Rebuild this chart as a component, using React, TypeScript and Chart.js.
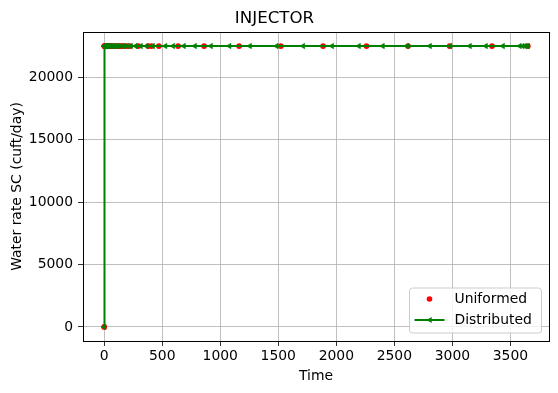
import React, { useEffect, useRef } from "react";
import { Chart, registerables } from "chart.js";

Chart.register(...registerables);

const chartTitle = "INJECTOR";
const xAxisTitle = "Time";
const yAxisTitle = "Water rate SC (cuft/day)";

const uniformedLabel = "Uniformed";
const uniformedTime = [
  0, 1, 3, 6, 10, 15, 21, 28, 36, 45, 55, 66, 78, 91, 105, 120, 136, 153, 171,
  190, 221, 293, 379, 408, 471, 637, 861, 1163, 1522, 1886, 2260, 2618, 2977,
  3342, 3650,
];
const uniformedRate = [
  0, 22500, 22500, 22500, 22500, 22500, 22500, 22500, 22500, 22500, 22500,
  22500, 22500, 22500, 22500, 22500, 22500, 22500, 22500, 22500, 22500, 22500,
  22500, 22500, 22500, 22500, 22500, 22500, 22500, 22500, 22500, 22500, 22500,
  22500, 22500,
];

const distributedLabel = "Distributed";
const distributedTime = [
  0, 1, 2, 5, 9, 14, 20, 28, 38, 50, 64, 80, 98, 118, 140, 165, 195, 230, 270,
  315, 365, 420, 527, 594, 686, 781, 919, 1079, 1255, 1485, 1714, 1963, 2194,
  2400, 2610, 2806, 2980, 3150, 3288, 3435, 3580, 3605, 3625, 3650,
];
const distributedRate = [
  0, 22500, 22500, 22500, 22500, 22500, 22500, 22500, 22500, 22500, 22500,
  22500, 22500, 22500, 22500, 22500, 22500, 22500, 22500, 22500, 22500, 22500,
  22500, 22500, 22500, 22500, 22500, 22500, 22500, 22500, 22500, 22500, 22500,
  22500, 22500, 22500, 22500, 22500, 22500, 22500, 22500, 22500, 22500, 22500,
];

const xTicks = [0, 500, 1000, 1500, 2000, 2500, 3000, 3500];
const yTicks = [0, 5000, 10000, 15000, 20000];
const xLimits = [-182.5, 3832.5];
const yLimits = [-1125, 23625];

const FONT = "'DejaVu Sans', sans-serif";
const RED = "#ff0000";
const GREEN = "#008000";

const framePlugin = {
  id: "frameAndLegend",
  afterDraw(chart: any) {
    const { ctx, chartArea } = chart;
    const { left, top, right, bottom } = chartArea;
    ctx.save();
    ctx.strokeStyle = "#000";
    ctx.lineWidth = 1;
    ctx.strokeRect(
      Math.round(left) + 0.5,
      Math.round(top) + 0.5,
      Math.round(right) - Math.round(left),
      Math.round(bottom) - Math.round(top)
    );

    // legend (lower right)
    const bw = 132;
    const bh = 45;
    const bx = right - 7.5 - bw;
    const by = bottom - 8 - bh;
    const r = 3;
    ctx.beginPath();
    ctx.moveTo(bx + r, by);
    ctx.lineTo(bx + bw - r, by);
    ctx.quadraticCurveTo(bx + bw, by, bx + bw, by + r);
    ctx.lineTo(bx + bw, by + bh - r);
    ctx.quadraticCurveTo(bx + bw, by + bh, bx + bw - r, by + bh);
    ctx.lineTo(bx + r, by + bh);
    ctx.quadraticCurveTo(bx, by + bh, bx, by + bh - r);
    ctx.lineTo(bx, by + r);
    ctx.quadraticCurveTo(bx, by, bx + r, by);
    ctx.closePath();
    ctx.fillStyle = "rgba(255,255,255,0.8)";
    ctx.fill();
    ctx.strokeStyle = "#cccccc";
    ctx.lineWidth = 1;
    ctx.stroke();

    const labels = chart.data.datasets.map((d: any) => d.label);
    const row1 = by + 11;
    const row2 = by + 32;
    const hx0 = bx + 5;
    const hx1 = bx + 35;
    const hc = (hx0 + hx1) / 2;

    // Uniformed marker
    ctx.beginPath();
    ctx.arc(hc, row1, 2.8, 0, Math.PI * 2);
    ctx.fillStyle = RED;
    ctx.fill();

    // Distributed line + marker
    ctx.beginPath();
    ctx.moveTo(hx0, row2);
    ctx.lineTo(hx1, row2);
    ctx.strokeStyle = GREEN;
    ctx.lineWidth = 2;
    ctx.stroke();
    ctx.beginPath();
    ctx.moveTo(hc - 3.2, row2);
    ctx.lineTo(hc + 2.2, row2 - 3);
    ctx.lineTo(hc + 2.2, row2 + 3);
    ctx.closePath();
    ctx.fillStyle = GREEN;
    ctx.fill();

    ctx.fillStyle = "#000";
    ctx.font = `13.9px ${FONT}`;
    ctx.textBaseline = "middle";
    ctx.textAlign = "left";
    const tx = bx + 45;
    const uIdx = labels.indexOf(uniformedLabel);
    const dIdx = labels.indexOf(distributedLabel);
    ctx.fillText(labels[uIdx], tx, row1);
    ctx.fillText(labels[dIdx], tx, row2);
    ctx.restore();
  },
};

export default function App() {
  const ref = useRef<HTMLCanvasElement | null>(null);

  useEffect(() => {
    if (!ref.current) return;
    const uniformedData = uniformedTime.map((t, i) => ({ x: t, y: uniformedRate[i] }));
    const distributedData = distributedTime.map((t, i) => ({ x: t, y: distributedRate[i] }));

    const chart = new Chart(ref.current, {
      type: "scatter",
      data: {
        datasets: [
          {
            label: uniformedLabel,
            data: uniformedData,
            showLine: false,
            pointStyle: "circle",
            pointRadius: 2.9,
            pointBackgroundColor: RED,
            pointBorderWidth: 0,
            backgroundColor: RED,
            borderColor: RED,
            order: 1,
          },
          {
            label: distributedLabel,
            data: distributedData,
            showLine: true,
            borderColor: GREEN,
            borderWidth: 2,
            pointStyle: "triangle",
            pointRotation: -90,
            pointRadius: 3.1,
            pointBackgroundColor: GREEN,
            pointBorderColor: GREEN,
            pointBorderWidth: 0.6,
            backgroundColor: GREEN,
            order: 0,
          },
        ] as any,
      },
      options: {
        responsive: false,
        animation: false,
        events: [],
        layout: { padding: { left: 0, right: 9, top: 0, bottom: 0 } },
        plugins: {
          legend: { display: false },
          tooltip: { enabled: false },
          title: {
            display: true,
            text: chartTitle,
            color: "#000",
            font: { family: FONT, size: 16.67, weight: "normal" },
            padding: { top: 9, bottom: 3 },
          },
        },
        scales: {
          x: {
            type: "linear",
            min: xLimits[0],
            max: xLimits[1],
            afterBuildTicks: (scale: any) => {
              scale.ticks = xTicks.map((v) => ({ value: v }));
            },
            afterFit: (scale: any) => {
              scale.height = 52;
            },
            ticks: {
              color: "#000",
              font: { family: FONT, size: 13.9 },
              padding: 2,
              autoSkip: false,
              maxRotation: 0,
              callback: (v: any) => String(v),
            },
            grid: {
              color: "#b0b0b0",
              lineWidth: 0.8,
              tickColor: "#000",
              tickLength: 5,
              tickWidth: 0.8,
            },
            border: { display: false },
            title: {
              display: true,
              text: xAxisTitle,
              color: "#000",
              font: { family: FONT, size: 13.9 },
              padding: { top: 0, bottom: 8 },
            },
          },
          y: {
            type: "linear",
            min: yLimits[0],
            max: yLimits[1],
            afterBuildTicks: (scale: any) => {
              scale.ticks = yTicks.map((v) => ({ value: v }));
            },
            afterFit: (scale: any) => {
              scale.width = 83;
            },
            ticks: {
              color: "#000",
              font: { family: FONT, size: 13.9 },
              padding: 5,
              autoSkip: false,
              callback: (v: any) => String(v),
            },
            grid: {
              color: "#b0b0b0",
              lineWidth: 0.8,
              tickColor: "#000",
              tickLength: 5,
              tickWidth: 0.8,
            },
            border: { display: false },
            title: {
              display: true,
              text: yAxisTitle,
              color: "#000",
              font: { family: FONT, size: 13.9 },
              padding: { top: 9, bottom: 0 },
            },
          },
        },
      } as any,
      plugins: [framePlugin],
    });
    return () => chart.destroy();
  }, []);

  return (
    <div style={{ position: "absolute", left: 0, top: 0, width: 558, height: 393, background: "#fff" }}>
      <canvas ref={ref} width={558} height={393} style={{ display: "block" }} />
    </div>
  );
}
